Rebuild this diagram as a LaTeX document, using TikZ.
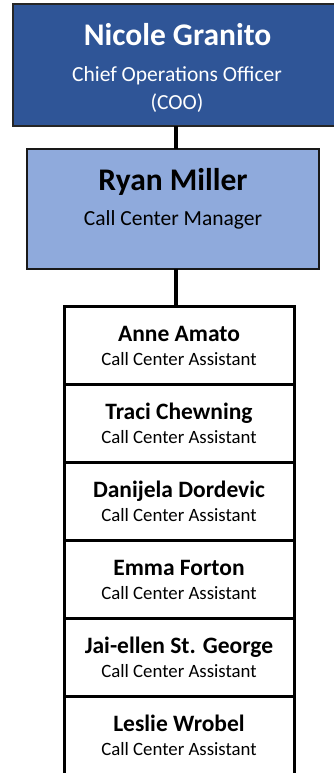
\documentclass[tikz,border=0pt]{standalone}
\usepackage{fontspec}
\setmainfont{Carlito}
\usetikzlibrary{positioning}
\definecolor{cooblue}{HTML}{2F5597}
\definecolor{mgrblue}{HTML}{8FAADC}
\tikzset{
  x=1pt, y=-1pt,
  topbox/.style={draw=black!85, line width=1.5pt, fill=cooblue, minimum width=328pt, minimum height=122pt, inner sep=0pt},
  mgrbox/.style={draw=black!90, line width=1.5pt, fill=mgrblue, minimum width=292pt, minimum height=120pt, inner sep=0pt},
  staffbox/.style={draw=black, line width=3pt, fill=white, minimum width=230pt, minimum height=78pt, inner sep=0pt, outer sep=0pt},
  link/.style={draw=black, line width=3.5pt},
  bigname/.style={anchor=base, inner sep=0pt, font=\fontsize{31.5}{36}\selectfont\bfseries},
  bigtitle/.style={anchor=base, inner sep=0pt, font=\fontsize{21.5}{26}\selectfont},
  staffname/.style={anchor=base, inner sep=0pt, font=\fontsize{23.5}{28}\selectfont\bfseries},
  stafftitle/.style={anchor=base, inner sep=0pt, font=\fontsize{18.8}{22}\selectfont},
}
\begin{document}
\begin{tikzpicture}
\useasboundingbox (0,0) rectangle (333,773);

% executive and manager boxes
\node[topbox] (coo) at (177,65) {};
\node[mgrbox] (mgr) at (173,209) {};

% assistant column
\node[staffbox] (s1) at (179,345) {};
\foreach \i [remember=\i as \prev (initially 1)] in {2,...,6}{
  \node[staffbox, below=0pt of s\prev] (s\i) {};
}

% connectors
\coordinate (cooLink) at (176,126);
\coordinate (mgrTop) at (176,149);
\coordinate (mgrBottom) at (176,269);
\coordinate (staffTop) at (176,306);
\draw[link] (cooLink) -- (mgrTop);
\draw[link] (mgrBottom) -- (staffTop);

% texts
\node[bigname, text=white] (cooName) at (177.5,45.5) {Nicole Granito};
\node[bigtitle, text=white] (cooTitle) at (177,81.5) {Chief Operations Officer};
\node[bigtitle, text=white] (cooAbbr) at (177,110) {(COO)};

\node[bigname] (mgrName) at (173,190) {Ryan Miller};
\node[bigtitle] (mgrTitle) at (173,225) {Call Center Manager};

\foreach \i/\who in {1/Anne Amato, 2/Traci Chewning, 3/Danijela Dordevic, 4/Emma Forton, 5/Jai-ellen St. George, 6/Leslie Wrobel}{
  \node[staffname] (n\i) at ([yshift=3.3pt]s\i.center) {\who};
  \node[stafftitle] (t\i) at ([yshift=-20.3pt]s\i.center) {Call Center Assistant};
}
\end{tikzpicture}
\end{document}
